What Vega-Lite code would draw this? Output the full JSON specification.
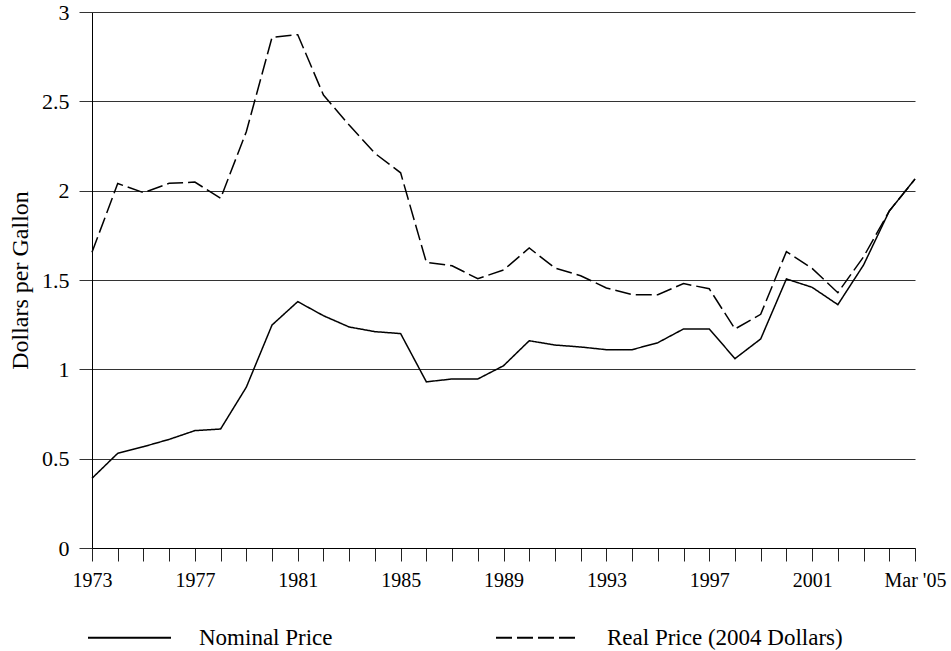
{
  "$schema": "https://vega.github.io/schema/vega-lite/v6.json",
  "width": 823,
  "height": 536,
  "autosize": "none",
  "padding": {"left": 92, "top": 12, "right": 36, "bottom": 103},
  "background": "white",
  "config": {
    "view": {"stroke": null},
    "font": "Liberation Serif",
    "axis": {"labelFont": "Liberation Serif", "titleFont": "Liberation Serif", "labelColor": "black", "titleColor": "black"},
    "legend": {"labelFont": "Liberation Serif", "labelColor": "black"}
  },
  "data": {
    "values": [
      {"year": 1973, "series": "Nominal Price", "price": 0.39},
      {"year": 1974, "series": "Nominal Price", "price": 0.53},
      {"year": 1975, "series": "Nominal Price", "price": 0.567},
      {"year": 1976, "series": "Nominal Price", "price": 0.608},
      {"year": 1977, "series": "Nominal Price", "price": 0.657},
      {"year": 1978, "series": "Nominal Price", "price": 0.666},
      {"year": 1979, "series": "Nominal Price", "price": 0.9},
      {"year": 1980, "series": "Nominal Price", "price": 1.248},
      {"year": 1981, "series": "Nominal Price", "price": 1.379},
      {"year": 1982, "series": "Nominal Price", "price": 1.3},
      {"year": 1983, "series": "Nominal Price", "price": 1.237},
      {"year": 1984, "series": "Nominal Price", "price": 1.211},
      {"year": 1985, "series": "Nominal Price", "price": 1.2},
      {"year": 1986, "series": "Nominal Price", "price": 0.93},
      {"year": 1987, "series": "Nominal Price", "price": 0.946},
      {"year": 1988, "series": "Nominal Price", "price": 0.946},
      {"year": 1989, "series": "Nominal Price", "price": 1.02},
      {"year": 1990, "series": "Nominal Price", "price": 1.16},
      {"year": 1991, "series": "Nominal Price", "price": 1.136},
      {"year": 1992, "series": "Nominal Price", "price": 1.125},
      {"year": 1993, "series": "Nominal Price", "price": 1.11},
      {"year": 1994, "series": "Nominal Price", "price": 1.11},
      {"year": 1995, "series": "Nominal Price", "price": 1.149},
      {"year": 1996, "series": "Nominal Price", "price": 1.226},
      {"year": 1997, "series": "Nominal Price", "price": 1.226},
      {"year": 1998, "series": "Nominal Price", "price": 1.06},
      {"year": 1999, "series": "Nominal Price", "price": 1.17},
      {"year": 2000, "series": "Nominal Price", "price": 1.506},
      {"year": 2001, "series": "Nominal Price", "price": 1.459},
      {"year": 2002, "series": "Nominal Price", "price": 1.362},
      {"year": 2003, "series": "Nominal Price", "price": 1.584},
      {"year": 2004, "series": "Nominal Price", "price": 1.886},
      {"year": 2005, "series": "Nominal Price", "price": 2.065},
      {"year": 1973, "series": "Real Price (2004 Dollars)", "price": 1.655},
      {"year": 1974, "series": "Real Price (2004 Dollars)", "price": 2.04},
      {"year": 1975, "series": "Real Price (2004 Dollars)", "price": 1.989},
      {"year": 1976, "series": "Real Price (2004 Dollars)", "price": 2.041},
      {"year": 1977, "series": "Real Price (2004 Dollars)", "price": 2.048},
      {"year": 1978, "series": "Real Price (2004 Dollars)", "price": 1.957},
      {"year": 1979, "series": "Real Price (2004 Dollars)", "price": 2.33},
      {"year": 1980, "series": "Real Price (2004 Dollars)", "price": 2.858},
      {"year": 1981, "series": "Real Price (2004 Dollars)", "price": 2.873},
      {"year": 1982, "series": "Real Price (2004 Dollars)", "price": 2.535},
      {"year": 1983, "series": "Real Price (2004 Dollars)", "price": 2.367},
      {"year": 1984, "series": "Real Price (2004 Dollars)", "price": 2.209},
      {"year": 1985, "series": "Real Price (2004 Dollars)", "price": 2.1},
      {"year": 1986, "series": "Real Price (2004 Dollars)", "price": 1.599},
      {"year": 1987, "series": "Real Price (2004 Dollars)", "price": 1.58},
      {"year": 1988, "series": "Real Price (2004 Dollars)", "price": 1.507},
      {"year": 1989, "series": "Real Price (2004 Dollars)", "price": 1.556},
      {"year": 1990, "series": "Real Price (2004 Dollars)", "price": 1.679},
      {"year": 1991, "series": "Real Price (2004 Dollars)", "price": 1.567},
      {"year": 1992, "series": "Real Price (2004 Dollars)", "price": 1.524},
      {"year": 1993, "series": "Real Price (2004 Dollars)", "price": 1.455},
      {"year": 1994, "series": "Real Price (2004 Dollars)", "price": 1.418},
      {"year": 1995, "series": "Real Price (2004 Dollars)", "price": 1.418},
      {"year": 1996, "series": "Real Price (2004 Dollars)", "price": 1.48},
      {"year": 1997, "series": "Real Price (2004 Dollars)", "price": 1.451},
      {"year": 1998, "series": "Real Price (2004 Dollars)", "price": 1.226},
      {"year": 1999, "series": "Real Price (2004 Dollars)", "price": 1.308},
      {"year": 2000, "series": "Real Price (2004 Dollars)", "price": 1.659},
      {"year": 2001, "series": "Real Price (2004 Dollars)", "price": 1.565},
      {"year": 2002, "series": "Real Price (2004 Dollars)", "price": 1.429},
      {"year": 2003, "series": "Real Price (2004 Dollars)", "price": 1.63},
      {"year": 2004, "series": "Real Price (2004 Dollars)", "price": 1.886},
      {"year": 2005, "series": "Real Price (2004 Dollars)", "price": 2.065}
    ]
  },
  "mark": {"type": "line", "color": "black", "strokeWidth": 1.5},
  "encoding": {
    "x": {
      "field": "year",
      "type": "quantitative",
      "scale": {"domain": [1973, 2005], "nice": false, "zero": false},
      "axis": {
        "title": null,
        "values": [1973,1974,1975,1976,1977,1978,1979,1980,1981,1982,1983,1984,1985,1986,1987,1988,1989,1990,1991,1992,1993,1994,1995,1996,1997,1998,1999,2000,2001,2002,2003,2004,2005],
        "format": "d",
        "labelExpr": "datum.value == 2005 ? \"Mar '05\" : ((datum.value - 1973) % 4 == 0 ? datum.label : '')",
        "grid": false,
        "domainColor": "black",
        "domainWidth": 1,
        "tickColor": "#222",
        "tickSize": 13,
        "tickWidth": 1,
        "labelFontSize": 20,
        "labelPadding": 9,
        "labelOverlap": false,
        "labelFlush": false
      }
    },
    "y": {
      "field": "price",
      "type": "quantitative",
      "scale": {"domain": [0, 3], "nice": false},
      "axis": {
        "title": "Dollars per Gallon",
        "titleFontSize": 24,
        "titleFontWeight": "normal",
        "titlePadding": 9,
        "values": [0, 0.5, 1, 1.5, 2, 2.5, 3],
        "format": "~g",
        "grid": true,
        "gridColor": "#333",
        "gridWidth": 1,
        "gridOpacity": 1,
        "domainColor": "black",
        "tickColor": "#333",
        "tickSize": 13,
        "labelFontSize": 22,
        "labelPadding": 10
      }
    },
    "strokeDash": {
      "field": "series",
      "type": "nominal",
      "scale": {"domain": ["Nominal Price", "Real Price (2004 Dollars)"], "range": [[1, 0], [16, 5]]},
      "legend": {
        "title": null,
        "orient": "none",
        "legendX": -5,
        "legendY": 583,
        "direction": "horizontal",
        "padding": 0,
        "symbolType": "stroke",
        "symbolSize": 6889,
        "symbolStrokeWidth": 2,
        "symbolStrokeColor": "black",
        "labelFontSize": 23,
        "labelOffset": 27,
        "labelLimit": 400,
        "columnPadding": 159
      }
    }
  }
}
